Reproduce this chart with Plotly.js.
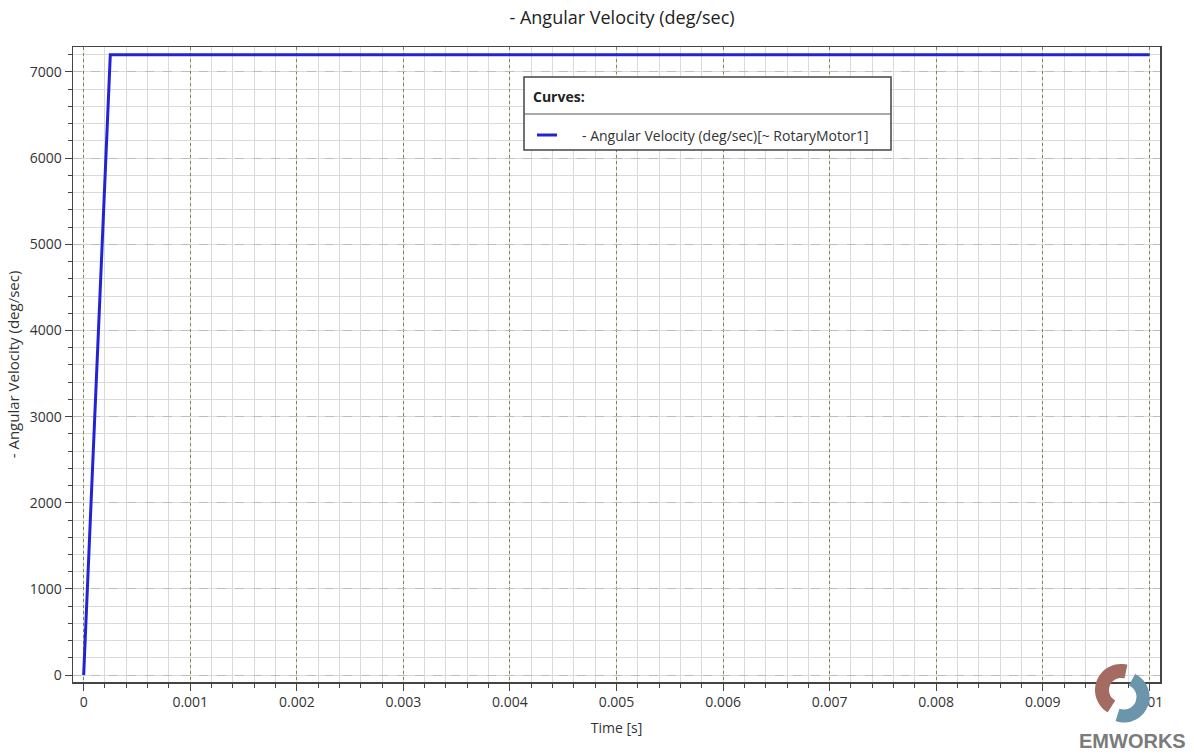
<!DOCTYPE html>
<html>
<head>
<meta charset="utf-8">
<script src="https://cdn.plot.ly/plotly-3.0.1.min.js"></script>
<style>
  html, body { margin: 0; padding: 0; background: #ffffff; }
  #chart { width: 1194px; height: 754px; }
</style>
</head>
<body>
<div id="chart"></div>
<script>
const time = [0, 0.00025, 0.01];
const velocity = [0, 7200, 7200];
const seriesName = "- Angular Velocity (deg/sec)[~ RotaryMotor1]";
const legendTitle = "Curves:";
const chartTitle = "- Angular Velocity (deg/sec)";
const xTitle = "Time [s]";
const yTitle = "- Angular Velocity (deg/sec)";
const xTickVals = [0, 0.001, 0.002, 0.003, 0.004, 0.005, 0.006, 0.007, 0.008, 0.009, 0.01];
const xTickText = ["0", "0.001", "0.002", "0.003", "0.004", "0.005", "0.006", "0.007", "0.008", "0.009", "0.01"];
const yTickVals = [0, 1000, 2000, 3000, 4000, 5000, 6000, 7000];
const logoText = "EMWORKS";

const font = "Open Sans, Noto Sans, DejaVu Sans, sans-serif";
const lineColor = "#2323d6";

// plot area geometry (pixels) used to place the decorative legend box / logo in paper units
const W = 1194, H = 754, ML = 73, MR = 34, MT = 47, MB = 72;
const PW = W - ML - MR, PH = H - MT - MB;
const px = v => (v - ML) / PW;
const py = v => (H - MB - v) / PH;

// decorative logo arcs
function arcPath(cx, cy, r, a0, a1) {
  let s = "";
  const n = 30;
  for (let i = 0; i <= n; i++) {
    const a = (a0 + (a1 - a0) * i / n) * Math.PI / 180;
    const x = px(cx + r * Math.cos(a));
    const y = py(cy - r * Math.sin(a));
    s += (i === 0 ? "M " : " L ") + x.toFixed(5) + "," + y.toFixed(5);
  }
  return s;
}

const trace = {
  x: time,
  y: velocity,
  type: "scatter",
  mode: "lines",
  name: seriesName,
  showlegend: false,
  line: { color: lineColor, width: 3 }
};

const layout = {
  width: W,
  height: H,
  paper_bgcolor: "#ffffff",
  plot_bgcolor: "#ffffff",
  margin: { l: ML, r: MR, t: MT, b: MB },
  font: { family: font, size: 13, color: "#333333" },
  title: {
    text: chartTitle,
    font: { family: font, size: 18, color: "#222222" },
    x: 0.521, xanchor: "center",
    y: 0.976, yanchor: "middle"
  },
  showlegend: false,
  xaxis: {
    range: [-0.0001, 0.0101],
    tickvals: xTickVals,
    ticktext: xTickText,
    ticks: "outside",
    ticklen: 7,
    tickcolor: "#444444",
    showline: true,
    linecolor: "#444444",
    linewidth: 1.5,
    mirror: true,
    zeroline: false,
    showgrid: true,
    gridcolor: "#7d8a4a",
    griddash: "dot",
    gridwidth: 1,
    minor: {
      dtick: 0.0002,
      tick0: 0,
      ticks: "outside",
      ticklen: 4,
      tickcolor: "#444444",
      showgrid: true,
      griddash: "solid",
      gridcolor: "#dadada",
      gridwidth: 1
    },
    tickfont: { family: font, size: 14, color: "#333333" },
    title: { text: xTitle, font: { family: font, size: 14, color: "#333333" }, standoff: 13 }
  },
  yaxis: {
    range: [-80, 7290],
    tickvals: yTickVals,
    tickformat: "d",
    ticks: "outside",
    ticklen: 7,
    tickcolor: "#444444",
    showline: true,
    linecolor: "#444444",
    linewidth: 1.5,
    mirror: true,
    zeroline: false,
    showgrid: true,
    gridcolor: "#bdbdbd",
    griddash: "dash",
    gridwidth: 1,
    minor: {
      dtick: 200,
      tick0: 0,
      ticks: "outside",
      ticklen: 4,
      tickcolor: "#444444",
      showgrid: true,
      griddash: "solid",
      gridcolor: "#dadada",
      gridwidth: 1
    },
    tickfont: { family: font, size: 14, color: "#333333" },
    title: { text: yTitle, font: { family: font, size: 15, color: "#333333" }, standoff: 6 }
  },
  shapes: [
    // legend box
    { type: "rect", xref: "paper", yref: "paper",
      x0: px(524), x1: px(891), y0: py(150), y1: py(77),
      fillcolor: "#ffffff", line: { color: "#444444", width: 1.5 }, layer: "above" },
    { type: "line", xref: "paper", yref: "paper",
      x0: px(524), x1: px(891), y0: py(114), y1: py(114),
      line: { color: "#555555", width: 1 }, layer: "above" },
    { type: "line", xref: "paper", yref: "paper",
      x0: px(537), x1: px(557), y0: py(135), y1: py(135),
      line: { color: lineColor, width: 3 }, layer: "above" },
    // logo arcs
    { type: "path", xref: "paper", yref: "paper", path: arcPath(1121, 690, 19, 75, 240),
      line: { color: "#a36b62", width: 14 }, layer: "above" },
    { type: "path", xref: "paper", yref: "paper", path: arcPath(1124, 697, 19, 250, 425),
      line: { color: "#6b95aa", width: 13 }, layer: "above" }
  ],
  annotations: [
    { xref: "paper", yref: "paper", x: px(531), y: py(97), xanchor: "left", yanchor: "middle",
      text: "<b>" + legendTitle + "</b>", showarrow: false,
      font: { family: font, size: 14, color: "#222222" } },
    { xref: "paper", yref: "paper", x: px(580), y: py(135), xanchor: "left", yanchor: "middle",
      text: seriesName, showarrow: false,
      font: { family: font, size: 14, color: "#333333" } },
    { xref: "paper", yref: "paper", x: px(1132), y: py(741), xanchor: "center", yanchor: "middle",
      text: "<b>" + logoText + "</b>", showarrow: false,
      font: { family: "Liberation Sans, Arial, sans-serif", size: 20, color: "#7b7b7b" } }
  ]
};

Plotly.newPlot("chart", [trace], layout, { displayModeBar: false, staticPlot: true });
</script>
</body>
</html>
